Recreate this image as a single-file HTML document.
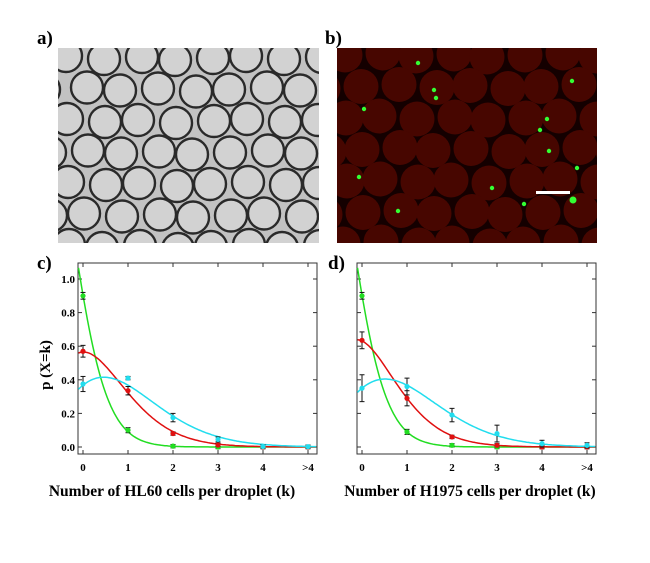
<!DOCTYPE html>
<html><head><meta charset="utf-8"><style>
body{margin:0;background:#fff;width:650px;height:563px;overflow:hidden}
svg{display:block}
text{font-family:"Liberation Serif",serif;font-weight:bold}
</style></head><body>
<svg id="s" width="650" height="563" xmlns="http://www.w3.org/2000/svg">
<defs>
<clipPath id="ca"><rect x="58" y="48" width="261" height="195"/></clipPath>
<clipPath id="cb"><rect x="337" y="48" width="260" height="195"/></clipPath>
</defs>
<rect x="58" y="48" width="261" height="195" fill="#c2c2c2"/>
<g id="ga" clip-path="url(#ca)"></g>
<rect x="337" y="48" width="260" height="195" fill="#140000"/>
<g id="gb" clip-path="url(#cb)"></g>
<rect x="536" y="191" width="34" height="3" fill="#fff"/>
<text x="37" y="44" font-size="19">a)</text>
<text x="325" y="44" font-size="19">b)</text>
<text x="37" y="269" font-size="19">c)</text>
<text x="328" y="269" font-size="19">d)</text>
<g id="gc"></g>
<g id="gd"></g>
<text x="50" y="365" font-size="15" transform="rotate(-90 50 365)" text-anchor="middle">p (X=k)</text>
<text x="172" y="496" font-size="15.5" text-anchor="middle">Number of HL60 cells per droplet (k)</text>
<text x="470" y="496" font-size="15.5" text-anchor="middle">Number of H1975 cells per droplet (k)</text>
</svg>
<script>
var NS="http://www.w3.org/2000/svg";
function el(p,t,a){var e=document.createElementNS(NS,t);for(var k in a)e.setAttribute(k,a[k]);p.appendChild(e);return e;}
function drops(g,x0,y0,fill,stroke,sw,seed,r){
 var dx=36,dy=31.5;
 for(var j=-1;j<8;j++)for(var i=-1;i<9;i++){
  var cx=x0+i*dx+(j%2?dx/2:0)+((i*7+j*3+seed)%5-2),cy=y0+j*dy+((i*3+j*5+seed)%5-2);
  el(g,'circle',{cx:cx,cy:cy,r:r-sw/2,fill:fill,stroke:stroke,'stroke-width':sw});
 }
}
var ga=document.getElementById('ga');
drops(ga,68,58,'#d2d2d2','#2a2a2a',2.4,0,17.2);
var gb=document.getElementById('gb');
drops(gb,345,55,'#470600','none',0,2,17.5);
[[418,63],[434,90],[436,98],[572,81],[364,109],[547,119],[549,151],[577,168],[359,177],[492,188],[524,204],[573,200],[398,211],[540,130]].forEach(function(p,i){
 el(gb,'circle',{cx:p[0],cy:p[1],r:i==11?3.5:2.2,fill:'#3f3'});
});
function gamma(z){var g=7,c=[0.99999999999980993,676.5203681218851,-1259.1392167224028,771.32342877765313,-176.61502916214059,12.507343278686905,-0.13857109526572012,9.9843695780195716e-6,1.5056327351493116e-7];
 if(z<0.5)return Math.PI/(Math.sin(Math.PI*z)*gamma(1-z));z-=1;var x=c[0];for(var i=1;i<g+2;i++)x+=c[i]/(z+i);var t=z+g+0.5;return Math.sqrt(2*Math.PI)*Math.pow(t,z+0.5)*Math.exp(-t)*x;}
function pois(l,x){return Math.pow(l,x)*Math.exp(-l)/gamma(x+1);}
function chart(id,off,data){
 var g=document.getElementById(id);
 var L=78+off,R=317+off,T=263,B=454;
 var X=function(k){return 83+off+45*k;},Y=function(v){return 447-168*v;};
 el(g,'rect',{x:L,y:T,width:R-L,height:B-T,fill:'none',stroke:'#333','stroke-width':1});
 var labs=['0','1','2','3','4','>4'];
 for(var k=0;k<6;k++){el(g,'line',{x1:X(k),x2:X(k),y1:B,y2:B-4,stroke:'#333'});el(g,'line',{x1:X(k),x2:X(k),y1:T,y2:T+4,stroke:'#333'});
  var t=el(g,'text',{x:X(k),y:471,'font-size':11,'text-anchor':'middle'});t.textContent=labs[k];}
 for(var v=0;v<=5;v++){var y=Y(v*0.2);el(g,'line',{x1:L,x2:L+4,y1:y,y2:y,stroke:'#333'});el(g,'line',{x1:R,x2:R-4,y1:y,y2:y,stroke:'#333'});
  if(off==0){var t=el(g,'text',{x:75,y:y+4,'font-size':11,'text-anchor':'end'});t.textContent=(v*0.2).toFixed(1);}}
 data.forEach(function(d){
  var pts=[];for(var x=-0.1;x<=5.2;x+=0.04){var v=pois(d.l,x);var yy=Y(v);if(yy<T)continue;pts.push(X(x).toFixed(1)+','+yy.toFixed(1));}
  el(g,'polyline',{points:pts.join(' '),fill:'none',stroke:d.c,'stroke-width':1.5});
 });
 data.forEach(function(d){
  d.p.forEach(function(v,k){var x=X(k),y=Y(v),e=d.e[k]||0.01;
   el(g,'line',{x1:x,x2:x,y1:Y(v+e),y2:Y(v-e),stroke:'#111'});
   el(g,'line',{x1:x-2.5,x2:x+2.5,y1:Y(v+e),y2:Y(v+e),stroke:'#111'});
   el(g,'line',{x1:x-2.5,x2:x+2.5,y1:Y(v-e),y2:Y(v-e),stroke:'#111'});
   el(g,'circle',{cx:x,cy:y,r:2.6,fill:d.c});
  });
 });
}
chart('gc',0,[
 {l:0.1,c:'#22dd22',p:[0.9,0.1,0.005,0,0,0],e:[0.02,0.015,0.01,0.01,0.01,0.01]},
 {l:0.57,c:'#e01010',p:[0.57,0.335,0.08,0.012,0,0],e:[0.035,0.025,0.01,0.01,0.01,0.01]},
 {l:1.0,c:'#22ddee',p:[0.375,0.41,0.175,0.045,0.003,0.002],e:[0.045,0.01,0.025,0.015,0.01,0.01]}
]);
chart('gd',279,[
 {l:0.1,c:'#22dd22',p:[0.9,0.09,0.01,0,0,0],e:[0.02,0.015,0.01,0.01,0.01,0.01]},
 {l:0.46,c:'#e01010',p:[0.635,0.29,0.06,0.01,0,0],e:[0.05,0.045,0.01,0.01,0.01,0.01]},
 {l:1.05,c:'#22ddee',p:[0.35,0.36,0.19,0.08,0.02,0.01],e:[0.08,0.05,0.04,0.05,0.02,0.015]}
]);
</script>
</body></html>
